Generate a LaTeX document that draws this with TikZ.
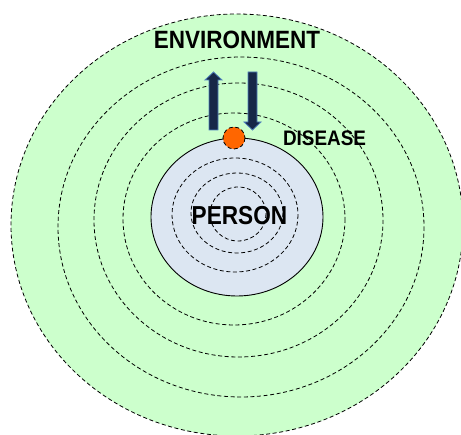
\documentclass[tikz,border=0pt]{standalone}
\usepackage{graphicx}
\usepackage{fontspec}
\setmainfont{Liberation Sans}
\usepackage{tikz}
\definecolor{envgreen}{RGB}{204,255,204}
\definecolor{personblue}{RGB}{220,230,242}
\definecolor{arrownavy}{RGB}{23,40,72}
\definecolor{arrowedge}{RGB}{79,129,189}
\definecolor{diseaseorange}{RGB}{255,102,0}
\tikzset{ring/.style={dashed,dash pattern=on 4pt off 2.6pt,line width=0.8pt},
  blockarrow/.style={fill=arrownavy,draw=arrowedge,line width=0.8pt,line join=miter},
  label/.style={font=\bfseries,inner sep=0pt}}

\begin{document}
\begin{tikzpicture}[x=1pt,y=-1pt]
            \useasboundingbox (0,0) rectangle (461,435);
            \draw[ring,fill=envgreen] (237,225) ellipse [x radius=226, y radius=211];
            \foreach \cx/\cy/\rx/\ry in {241/227/183/170, 238.5/220/144.5/137, 234/219/111/106}
              \draw[ring] (\cx,\cy) ellipse [x radius=\rx, y radius=\ry];
            \draw[line width=0.9pt,fill=personblue] (237,217) ellipse [x radius=86, y radius=79];
            \foreach \cx/\cy/\rx/\ry in {235/215/63/57, 237/213/46/40, 238/214/28/27}
              \draw[ring] (\cx,\cy) ellipse [x radius=\rx, y radius=\ry];
            \draw[ring,fill=diseaseorange] (234,138) circle [radius=11];
            \draw[blockarrow] (209,130) -- (209,80) -- (205,80) -- (213.5,72) -- (222,80) -- (218,80) -- (218,130) -- cycle;
            \draw[blockarrow] (248,72) -- (248,122) -- (244,122) -- (252.5,130) -- (261,122) -- (257,122) -- (257,72) -- cycle;
            \node[label,font=\fontsize{25}{25}\bfseries] (environment) at (237,40) {\scalebox{0.9}[1]{ENVIRONMENT}};
            \node[label,font=\fontsize{21}{21}\bfseries] (disease) at (324.5,138) {\scalebox{0.9}[1]{DISEASE}};
            \node[label,font=\fontsize{26}{26}\bfseries] (person) at (239.5,216) {\scalebox{0.87}[1]{PERSON}};
        \end{tikzpicture}
\end{document}
